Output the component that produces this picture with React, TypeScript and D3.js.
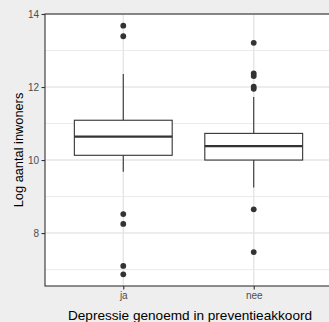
import React, { useEffect, useRef } from 'react';
import * as d3 from 'd3';

// boxplot summaries
const categories = ['ja', 'nee'];
const whiskerLow = [9.68, 9.25];
const q1 = [10.13, 10.0];
const median = [10.64, 10.38];
const q3 = [11.09, 10.73];
const whiskerHigh = [12.36, 11.73];
const outliersJa = [13.68, 13.39, 8.52, 8.25, 7.1, 6.87];
const outliersNee = [13.21, 12.37, 12.3, 12.01, 11.95, 8.65, 7.48];
const yTicks = [8, 10, 12, 14];
const yMinor = [7, 9, 11, 13];

const App = () => {
    const svgRef = useRef<SVGSVGElement>(null);

    useEffect(() => {
        const W = 329;
        const H = 322;
        const margin = { top: 14, right: -3, bottom: 36, left: 45 };
        const width = W - margin.left - margin.right;
        const height = H - margin.top - margin.bottom;

        d3.select(svgRef.current).selectAll('*').remove();

        const root = d3
            .select(svgRef.current)
            .attr('width', W)
            .attr('height', H)
            .style('font-family', '"Liberation Sans", Arial, sans-serif');

        root.append('rect').attr('width', W).attr('height', H).attr('fill', '#eeeeee');

        const svg = root.append('g').attr('transform', `translate(${margin.left}, ${margin.top})`);

        const xScale = d3.scaleLinear().domain([0.4, 2.6]).range([0, width]);
        const yScale = d3.scaleLinear().domain([6.55, 14.0]).range([height, 0]);

        svg.append('rect').attr('width', width).attr('height', height).attr('fill', 'white');

        // grid
        svg.selectAll('.minor')
            .data(yMinor)
            .enter()
            .append('line')
            .attr('x1', 0)
            .attr('x2', width)
            .attr('y1', d => yScale(d))
            .attr('y2', d => yScale(d))
            .attr('stroke', '#ebebeb')
            .attr('stroke-width', 1);

        svg.selectAll('.major')
            .data(yTicks)
            .enter()
            .append('line')
            .attr('x1', 0)
            .attr('x2', width)
            .attr('y1', d => yScale(d))
            .attr('y2', d => yScale(d))
            .attr('stroke', '#e6e6e6')
            .attr('stroke-width', 1.4);

        svg.selectAll('.vgrid')
            .data(categories)
            .enter()
            .append('line')
            .attr('x1', (d, i) => xScale(i + 1))
            .attr('x2', (d, i) => xScale(i + 1))
            .attr('y1', 0)
            .attr('y2', height)
            .attr('stroke', '#e6e6e6')
            .attr('stroke-width', 1.4);

        const boxW = xScale(0.75) - xScale(0);
        const ink = '#333333';

        categories.forEach((c, i) => {
            const cx = xScale(i + 1);
            svg.append('line')
                .attr('x1', cx).attr('x2', cx)
                .attr('y1', yScale(whiskerHigh[i])).attr('y2', yScale(q3[i]))
                .attr('stroke', ink).attr('stroke-width', 1.1);
            svg.append('line')
                .attr('x1', cx).attr('x2', cx)
                .attr('y1', yScale(q1[i])).attr('y2', yScale(whiskerLow[i]))
                .attr('stroke', ink).attr('stroke-width', 1.1);
            svg.append('rect')
                .attr('x', cx - boxW / 2)
                .attr('y', yScale(q3[i]))
                .attr('width', boxW)
                .attr('height', yScale(q1[i]) - yScale(q3[i]))
                .attr('fill', 'white')
                .attr('stroke', ink)
                .attr('stroke-width', 1.1);
            svg.append('line')
                .attr('x1', cx - boxW / 2).attr('x2', cx + boxW / 2)
                .attr('y1', yScale(median[i])).attr('y2', yScale(median[i]))
                .attr('stroke', ink).attr('stroke-width', 2.2);

            const outs = i === 0 ? outliersJa : outliersNee;
            svg.selectAll(`.dot${i}`)
                .data(outs)
                .enter()
                .append('circle')
                .attr('cx', cx)
                .attr('cy', d => yScale(d))
                .attr('r', 2.9)
                .attr('fill', ink);
        });

        // panel border
        svg.append('rect')
            .attr('width', width)
            .attr('height', height)
            .attr('fill', 'none')
            .attr('stroke', ink)
            .attr('stroke-width', 1.1);

        // y axis
        const yAxis = svg.append('g').call(d3.axisLeft(yScale).tickValues(yTicks).tickSize(3.5).tickPadding(2.5));
        yAxis.select('.domain').remove();
        yAxis.selectAll('line').attr('stroke', ink).attr('stroke-width', 1.1);
        yAxis.selectAll('text')
            .attr('fill', '#4d4d4d')
            .style('font-size', '10px')
            .style('font-family', '"Liberation Sans", Arial, sans-serif');

        // x axis
        const xAxis = svg.append('g')
            .attr('transform', `translate(0, ${height})`)
            .call(d3.axisBottom(xScale).tickValues([1, 2]).tickFormat((d: any) => categories[d - 1]).tickSize(3.5).tickPadding(2));
        xAxis.select('.domain').remove();
        xAxis.selectAll('line').attr('stroke', ink).attr('stroke-width', 1.1);
        xAxis.selectAll('text')
            .attr('fill', '#4d4d4d')
            .style('font-size', '10px')
            .style('font-family', '"Liberation Sans", Arial, sans-serif');

        root.append('text')
            .attr('x', 190)
            .attr('y', 319.5)
            .attr('text-anchor', 'middle')
            .attr('fill', 'black')
            .style('font-size', '13.6px')
            .text('Depressie genoemd in preventieakkoord');

        root.append('text')
            .attr('transform', 'rotate(-90)')
            .attr('x', -(margin.top + height / 2))
            .attr('y', 23)
            .attr('text-anchor', 'middle')
            .attr('fill', 'black')
            .style('font-size', '12.8px')
            .text('Log aantal inwoners');
    }, []);

    return <svg ref={svgRef} style={{ position: 'absolute', left: 0, top: 0 }}></svg>;
};

export default App;
